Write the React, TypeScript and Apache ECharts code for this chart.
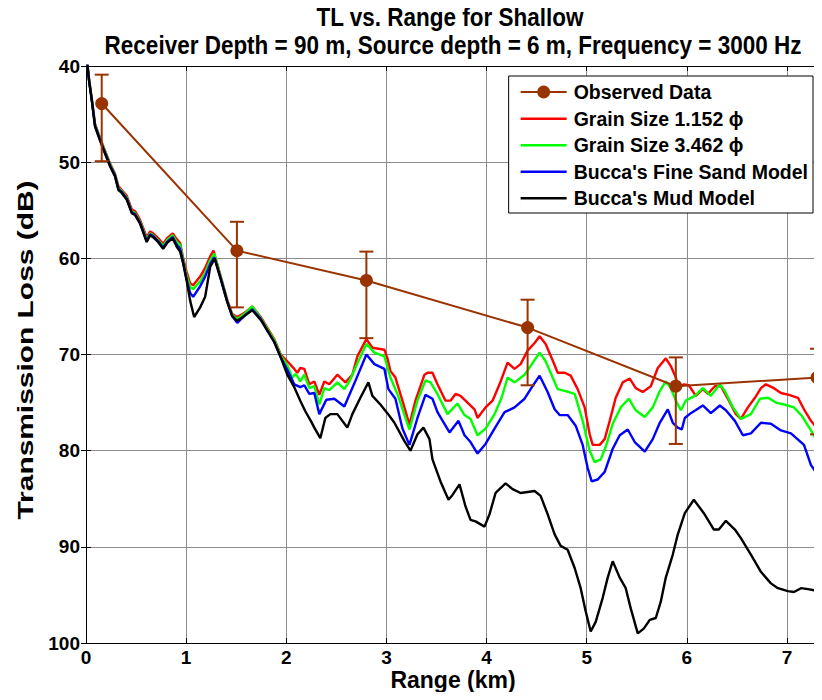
import React, { useEffect, useRef } from "react";
import * as echarts from "echarts";

const obsRange = [0.157, 1.507, 2.80, 4.41, 5.89, 7.30];
const obsTL = [43.9, 59.2, 62.3, 67.2, 73.3, 72.4];
const obsErrTop = [40.9, 56.2, 59.3, 64.3, 70.3, 69.4];
const obsErrBottom = [49.9, 65.1, 68.3, 73.2, 79.3, 78.3];

const grain1152: number[][] = [[0.0,38.3],[0.03,41.3],[0.057,43.3],[0.09,46.0],[0.124,47.0],[0.174,48.4],[0.243,50.2],[0.29,51.2],[0.324,52.5],[0.357,52.9],[0.407,53.5],[0.457,54.9],[0.49,55.1],[0.54,56.0],[0.606,57.8],[0.64,57.2],[0.67,57.4],[0.72,57.9],[0.77,58.5],[0.81,57.9],[0.866,57.4],[0.906,58.0],[0.94,58.4],[0.97,60.0],[1.005,61.4],[1.04,62.6],[1.07,62.8],[1.14,61.9],[1.19,61.0],[1.24,59.8],[1.273,59.2],[1.346,61.9],[1.41,64.3],[1.46,65.8],[1.51,66.1],[1.58,65.7],[1.66,65.0],[1.745,66.1],[1.81,67.2],[1.88,68.4],[1.945,70.0],[2.01,70.7],[2.08,71.5],[2.11,71.9],[2.14,71.4],[2.18,71.5],[2.23,73.1],[2.28,72.8],[2.33,74.2],[2.38,72.8],[2.43,73.1],[2.51,72.1],[2.59,72.9],[2.66,72.1],[2.71,70.2],[2.80,68.4],[2.86,69.3],[2.98,69.5],[3.01,70.4],[3.04,71.7],[3.09,72.4],[3.16,74.8],[3.23,77.3],[3.29,74.8],[3.38,72.1],[3.41,71.9],[3.46,71.9],[3.51,73.1],[3.59,74.8],[3.64,74.8],[3.69,74.1],[3.74,74.3],[3.81,75.0],[3.88,75.7],[3.91,76.6],[3.99,75.5],[4.06,74.8],[4.13,73.1],[4.21,70.85],[4.28,71.5],[4.34,71.0],[4.41,69.6],[4.48,68.8],[4.53,68.1],[4.59,68.9],[4.66,70.6],[4.71,71.9],[4.78,71.9],[4.84,72.2],[4.91,73.6],[4.98,75.5],[5.03,78.3],[5.06,79.4],[5.13,79.4],[5.18,78.8],[5.23,76.9],[5.29,74.5],[5.36,72.9],[5.43,72.5],[5.49,73.5],[5.56,73.9],[5.64,73.3],[5.71,71.4],[5.79,70.4],[5.84,71.2],[5.89,72.4],[5.92,73.5],[5.97,73.1],[6.02,73.2],[6.09,74.3],[6.16,73.6],[6.21,74.1],[6.28,73.3],[6.34,73.3],[6.42,74.8],[6.49,76.2],[6.54,76.7],[6.61,75.5],[6.68,74.5],[6.74,73.5],[6.79,73.1],[6.87,73.5],[6.94,74.0],[7.02,74.2],[7.11,74.5],[7.17,75.7],[7.24,76.9],[7.31,77.8],[7.33,78.1]];

const grain3462: number[][] = [[0.0,38.4],[0.03,41.4],[0.057,43.4],[0.09,46.1],[0.124,47.1],[0.174,48.5],[0.243,50.3],[0.29,51.3],[0.324,52.7],[0.357,53.0],[0.407,53.7],[0.457,55.1],[0.49,55.3],[0.54,56.2],[0.606,58.0],[0.64,57.4],[0.67,57.6],[0.72,58.1],[0.77,58.7],[0.81,58.1],[0.866,57.6],[0.906,58.3],[0.94,58.6],[0.97,60.2],[1.005,61.8],[1.04,63.0],[1.07,63.2],[1.14,62.4],[1.19,61.5],[1.24,60.2],[1.28,59.5],[1.346,62.0],[1.41,64.4],[1.46,65.9],[1.51,66.3],[1.58,65.8],[1.66,65.0],[1.745,66.2],[1.81,67.3],[1.88,68.5],[1.945,70.1],[2.01,71.1],[2.06,72.4],[2.095,72.0],[2.14,72.8],[2.18,72.1],[2.23,73.5],[2.28,73.3],[2.33,75.2],[2.38,73.5],[2.43,73.7],[2.51,72.9],[2.58,73.6],[2.64,72.6],[2.71,70.9],[2.80,68.9],[2.88,69.8],[2.98,70.2],[3.04,72.4],[3.11,74.1],[3.23,77.8],[3.31,74.8],[3.39,72.7],[3.44,72.9],[3.51,74.1],[3.61,76.2],[3.71,75.1],[3.78,76.3],[3.84,76.7],[3.91,78.4],[3.99,77.7],[4.08,76.2],[4.15,74.5],[4.21,72.4],[4.28,72.9],[4.38,72.1],[4.44,71.2],[4.53,69.8],[4.59,70.7],[4.64,71.9],[4.71,73.6],[4.79,73.8],[4.88,74.1],[4.96,76.9],[5.03,80.0],[5.08,81.2],[5.14,80.9],[5.19,79.6],[5.26,77.2],[5.34,75.5],[5.42,74.6],[5.49,75.8],[5.58,76.5],[5.66,75.5],[5.73,73.8],[5.79,72.8],[5.84,73.5],[5.89,74.8],[5.94,75.8],[5.99,74.8],[6.08,74.3],[6.16,73.5],[6.24,74.3],[6.33,73.1],[6.38,73.8],[6.46,75.5],[6.54,76.7],[6.64,76.2],[6.73,74.6],[6.81,74.5],[6.89,75.0],[6.97,75.2],[7.07,75.5],[7.15,76.4],[7.24,77.9],[7.32,79.3]];

const fineSand: number[][] = [[0.0,38.5],[0.03,41.5],[0.057,43.5],[0.09,46.2],[0.124,47.2],[0.174,48.6],[0.243,50.4],[0.29,51.4],[0.324,52.8],[0.357,53.1],[0.407,53.8],[0.457,55.2],[0.49,55.4],[0.54,56.3],[0.606,58.2],[0.64,57.5],[0.67,57.7],[0.72,58.2],[0.77,58.9],[0.81,58.3],[0.866,57.8],[0.906,58.6],[0.94,59.0],[0.97,60.4],[1.005,62.2],[1.04,63.6],[1.07,64.0],[1.14,62.9],[1.19,61.9],[1.24,60.6],[1.28,59.9],[1.346,62.1],[1.41,64.5],[1.46,66.0],[1.51,66.7],[1.58,66.0],[1.66,65.3],[1.745,66.3],[1.81,67.5],[1.88,68.7],[1.945,70.3],[2.01,71.6],[2.08,73.1],[2.14,73.4],[2.18,73.2],[2.23,74.1],[2.28,74.0],[2.33,76.2],[2.40,74.7],[2.48,74.6],[2.58,75.4],[2.68,73.0],[2.80,70.0],[2.88,71.0],[2.98,71.5],[3.02,73.6],[3.09,74.6],[3.16,77.7],[3.23,79.4],[3.31,76.6],[3.39,74.2],[3.46,74.6],[3.51,76.0],[3.63,78.1],[3.72,76.9],[3.78,78.4],[3.84,79.1],[3.91,80.3],[3.99,79.3],[4.08,77.7],[4.18,76.0],[4.28,75.5],[4.38,74.6],[4.44,73.6],[4.53,72.2],[4.61,73.9],[4.68,75.7],[4.73,76.3],[4.81,76.3],[4.89,77.4],[4.96,79.4],[5.01,81.8],[5.05,83.2],[5.11,83.0],[5.18,82.2],[5.26,79.8],[5.33,78.4],[5.41,77.8],[5.48,79.1],[5.58,80.1],[5.66,78.8],[5.73,77.1],[5.81,75.7],[5.86,77.1],[5.91,77.6],[5.95,77.8],[5.98,76.6],[6.04,76.1],[6.16,75.3],[6.24,76.1],[6.33,75.3],[6.39,75.8],[6.48,76.9],[6.56,78.4],[6.64,78.2],[6.74,77.1],[6.84,77.2],[6.94,77.9],[7.04,78.2],[7.17,79.4],[7.24,81.5],[7.32,82.7]];

const mudModel: number[][] = [[0.0,38.5],[0.03,41.5],[0.057,43.5],[0.09,46.3],[0.124,47.3],[0.174,48.7],[0.243,50.5],[0.29,51.5],[0.324,52.9],[0.357,53.2],[0.407,53.9],[0.457,55.3],[0.49,55.5],[0.54,56.4],[0.606,58.3],[0.64,57.6],[0.67,57.8],[0.72,58.3],[0.77,59.0],[0.81,58.4],[0.866,57.9],[0.906,58.8],[0.94,59.3],[0.97,60.5],[1.005,62.3],[1.04,64.4],[1.08,66.1],[1.14,65.1],[1.19,64.0],[1.24,60.9],[1.286,60.0],[1.346,62.2],[1.41,64.5],[1.46,66.0],[1.51,66.5],[1.58,66.0],[1.66,65.4],[1.745,66.4],[1.81,67.5],[1.88,68.7],[1.945,70.3],[2.01,72.1],[2.08,73.4],[2.14,74.8],[2.19,75.9],[2.245,76.9],[2.28,77.6],[2.34,78.7],[2.39,76.6],[2.44,76.2],[2.51,76.2],[2.56,76.9],[2.61,77.6],[2.66,76.2],[2.74,74.5],[2.82,72.9],[2.86,74.3],[2.94,75.2],[3.01,76.1],[3.08,77.1],[3.18,79.0],[3.24,80.0],[3.31,78.3],[3.37,77.6],[3.43,78.8],[3.46,80.9],[3.54,83.2],[3.62,85.1],[3.66,84.6],[3.73,83.5],[3.79,85.8],[3.84,87.2],[3.89,87.35],[3.98,87.9],[4.03,86.6],[4.09,84.4],[4.19,83.4],[4.26,84.0],[4.34,84.4],[4.48,84.2],[4.54,84.7],[4.61,86.6],[4.68,88.7],[4.74,89.9],[4.81,90.3],[4.88,92.2],[4.94,94.3],[4.99,96.7],[5.04,98.8],[5.09,97.8],[5.16,95.3],[5.21,93.2],[5.26,91.5],[5.33,93.2],[5.39,94.3],[5.44,96.4],[5.51,99.0],[5.57,98.5],[5.63,97.6],[5.69,97.4],[5.74,95.7],[5.79,93.2],[5.86,90.8],[5.91,88.7],[5.98,86.5],[6.07,85.1],[6.17,86.5],[6.27,88.2],[6.32,88.2],[6.39,87.3],[6.48,88.2],[6.54,89.1],[6.64,90.8],[6.74,92.6],[6.84,93.8],[6.91,94.3],[7.01,94.6],[7.07,94.7],[7.14,94.3],[7.21,94.4],[7.32,94.6]];

const titleLines = ["TL vs. Range for Shallow", "Receiver Depth = 90 m, Source depth = 6 m, Frequency = 3000 Hz"];
const xAxisTitle = "Range (km)";
const yAxisTitle = "Transmission Loss (dB)";
const seriesNames = ["Observed Data", "Grain Size 1.152 \u03d5", "Grain Size 3.462 \u03d5", "Bucca's Fine Sand Model", "Bucca's Mud Model"];

const FONT = "'Liberation Sans', Arial, sans-serif";
const BROWN = "#993300";
const LINE_ICON = "path://M0,7 H46 V9.4 H0 Z M0,0 H0.01 V16 H0 Z";

export default function App() {
  const ref = useRef<HTMLDivElement>(null);
  useEffect(() => {
    if (!ref.current) return;
    const chart = echarts.init(ref.current, null, { renderer: "svg" });
    const obsData = obsRange.map((x, i) => [x, obsTL[i]]);
    const errData = obsRange.map((x, i) => [x, obsErrTop[i], obsErrBottom[i]]);
    const boldText = (size: number) => ({ fontSize: size, fontWeight: "bold", fontFamily: FONT, fill: "#000", align: "center", verticalAlign: "middle" });
    const frameAxis = { axisLine: { show: true, lineStyle: { color: "#000", width: 1 } }, axisTick: { show: true, inside: true, length: 5, lineStyle: { color: "#000" } }, axisLabel: { show: false }, splitLine: { show: false } };
    chart.setOption({
      animation: false,
      backgroundColor: "#fff",
      textStyle: { fontFamily: FONT },
      grid: { left: 86, right: 2, top: 66, bottom: 57 },
      graphic: [
        { type: "text", x: 450, y: 17, scaleY: 1.12, style: { text: titleLines[0], ...boldText(22.5) } },
        { type: "text", x: 453, y: 45, scaleY: 1.12, style: { text: titleLines[1], ...boldText(22.5) } },
        { type: "text", x: 453, y: 679, scaleY: 1.08, style: { text: xAxisTitle, ...boldText(23) } },
        { type: "text", x: 25, y: 350, rotation: Math.PI / 2, scaleX: 1.36, style: { text: yAxisTitle, ...boldText(22) } },
      ],
      legend: {
        orient: "vertical",
        right: 9,
        top: 76,
        backgroundColor: "#fff",
        borderColor: "#000",
        borderWidth: 1,
        borderRadius: 0,
        padding: [6, 5, 5, 11],
        itemWidth: 46,
        itemHeight: 16,
        itemGap: 6.5,
        data: [
          { name: seriesNames[0] },
          { name: seriesNames[1], icon: LINE_ICON },
          { name: seriesNames[2], icon: LINE_ICON },
          { name: seriesNames[3], icon: LINE_ICON },
          { name: seriesNames[4], icon: LINE_ICON },
        ],
        textStyle: { fontSize: 19.5, fontWeight: "bold", color: "#000", fontFamily: FONT, padding: [0, 0, 0, 2] },
      },
      xAxis: [
        {
          type: "value",
          min: 0,
          max: 7.33,
          interval: 1,
          axisLine: { onZero: false, lineStyle: { color: "#000", width: 1 } },
          axisTick: { inside: true, length: 5, lineStyle: { color: "#000" } },
          axisLabel: { fontSize: 19, fontWeight: "bold", color: "#000", margin: 5, showMaxLabel: false, fontFamily: FONT },
          splitLine: { show: true, lineStyle: { color: "#8c8c8c", width: 1 } },
        },
        { type: "value", position: "top", min: 0, max: 7.33, interval: 1, ...frameAxis },
      ],
      yAxis: [
        {
          type: "value",
          inverse: true,
          min: 40,
          max: 100,
          interval: 10,
          axisLine: { onZero: false, lineStyle: { color: "#000", width: 1 } },
          axisTick: { inside: true, length: 5, lineStyle: { color: "#000" } },
          axisLabel: { fontSize: 19, fontWeight: "bold", color: "#000", margin: 6, fontFamily: FONT },
          splitLine: { show: true, lineStyle: { color: "#8c8c8c", width: 1 } },
        },
        { type: "value", position: "right", inverse: true, min: 40, max: 100, interval: 10, ...frameAxis },
      ],
      series: [
        {
          name: seriesNames[1], type: "line", data: grain1152, symbol: "none", clip: true,
          lineStyle: { color: "#ff0000", width: 2.4 }, itemStyle: { color: "#ff0000" }, z: 3,
        },
        {
          name: seriesNames[2], type: "line", data: grain3462, symbol: "none", clip: true,
          lineStyle: { color: "#00ff00", width: 2.4 }, itemStyle: { color: "#00ff00" }, z: 4,
        },
        {
          name: seriesNames[3], type: "line", data: fineSand, symbol: "none", clip: true,
          lineStyle: { color: "#0000ff", width: 2.4 }, itemStyle: { color: "#0000ff" }, z: 5,
        },
        {
          name: seriesNames[4], type: "line", data: mudModel, symbol: "none", clip: true,
          lineStyle: { color: "#000000", width: 2.4 }, itemStyle: { color: "#000000" }, z: 6,
        },
        {
          name: seriesNames[0] + " error", type: "custom", data: errData, z: 7,
          renderItem: (params: any, api: any) => {
            const x = api.value(0);
            const top = api.coord([x, api.value(1)]);
            const bot = api.coord([x, api.value(2)]);
            const hw = 7;
            const st = { stroke: BROWN, lineWidth: 2 };
            return {
              type: "group",
              children: [
                { type: "line", shape: { x1: top[0], y1: top[1], x2: bot[0], y2: bot[1] }, style: st },
                { type: "line", shape: { x1: top[0] - hw, y1: top[1], x2: top[0] + hw, y2: top[1] }, style: st },
                { type: "line", shape: { x1: bot[0] - hw, y1: bot[1], x2: bot[0] + hw, y2: bot[1] }, style: st },
              ],
            };
          },
        },
        {
          name: seriesNames[0], type: "line", data: obsData, symbol: "circle", symbolSize: 13, clip: false,
          lineStyle: { color: BROWN, width: 2 }, itemStyle: { color: BROWN }, z: 8,
        },
      ],
    });
    return () => chart.dispose();
  }, []);
  return <div ref={ref} style={{ width: 822, height: 700, margin: -8 }} />;
}
